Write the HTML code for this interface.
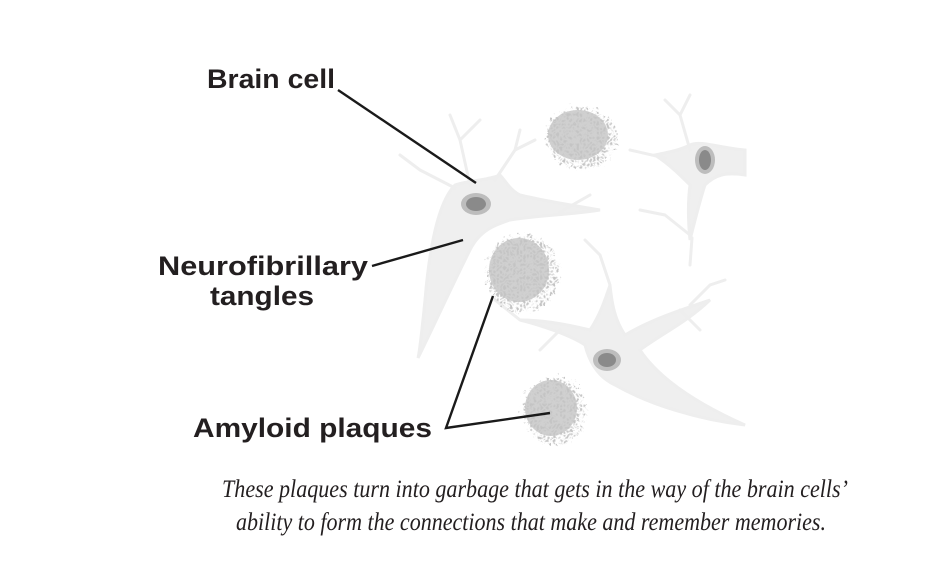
<!DOCTYPE html>
<html><head><meta charset="utf-8"><style>
html,body{margin:0;padding:0;background:#fff;}
svg{display:block;}
</style></head><body>
<svg width="950" height="577" viewBox="0 0 950 577" xmlns="http://www.w3.org/2000/svg">
<defs>
<filter id="tex" x="-30%" y="-30%" width="160%" height="160%">
<feTurbulence type="turbulence" baseFrequency="0.18" numOctaves="2" seed="5" result="n"/>
<feDisplacementMap in="SourceGraphic" in2="n" scale="14" xChannelSelector="R" yChannelSelector="G" result="d"/>
<feTurbulence type="turbulence" baseFrequency="0.3" numOctaves="1" seed="9" result="n2"/>
<feColorMatrix in="n2" type="matrix" values="0 0 0 0 0.55  0 0 0 0 0.55  0 0 0 0 0.55  3 0 0 0 -0.2" result="c"/>
<feComposite in="c" in2="d" operator="in"/>
</filter>
</defs>
<!-- neurons -->
<g fill="#efefef" stroke="#eeeeee" stroke-linecap="round" stroke-width="3">
 <path d="M455,185 C440,200 430,240 425,300 C422,330 420,350 418,358 C432,330 450,290 470,250 C480,230 495,225 510,220 C540,215 570,215 600,210 C570,205 540,200 520,195 C510,190 505,180 500,175 C490,180 470,180 455,185 Z"/>
 <path d="M455,188 L420,170 M420,170 L400,155 M470,185 L460,140 M460,140 L450,115 M460,140 L480,120 M495,180 L515,150 M515,150 L535,140 M515,150 L520,130 M560,212 L590,195" fill="none"/>
 <path d="M690,145 C700,140 720,148 745,150 L745,175 C725,172 715,175 705,185 C700,200 695,220 690,240 C688,220 688,200 690,185 C680,175 670,165 655,155 C670,152 680,150 690,145 Z"/>
 <path d="M690,150 L680,115 M680,115 L665,100 M680,115 L690,95 M665,158 L630,150 M690,235 L665,215 M665,215 L640,210 M692,238 L690,265" fill="none"/>
 <path d="M585,345 C570,335 540,325 520,320 C545,320 570,325 590,330 C600,315 605,300 610,285 C612,305 615,320 625,335 C650,320 680,310 710,300 C690,320 660,335 640,350 C660,380 700,405 745,425 C700,420 650,405 615,385 C600,378 590,365 585,345 Z"/>
 <path d="M520,320 L495,300 M610,285 L600,255 M600,255 L585,240 M690,305 L710,285 M710,285 L725,280 M680,310 L700,330 M560,330 L540,350" fill="none"/>
</g>
<g fill="#bdbdbd">
 <ellipse cx="476" cy="204" rx="15" ry="11"/>
 <ellipse cx="705" cy="160" rx="10" ry="14"/>
 <ellipse cx="607" cy="360" rx="14" ry="11"/>
</g>
<g fill="#8a8a8a">
 <ellipse cx="476" cy="204" rx="10" ry="7"/>
 <ellipse cx="705" cy="160" rx="6" ry="10"/>
 <ellipse cx="607" cy="360" rx="9" ry="7"/>
</g>
<!-- plaques -->
<g fill="#d0d0d0">
 <ellipse cx="578" cy="135" rx="30" ry="25"/>
 <ellipse cx="519" cy="270" rx="30" ry="32"/>
 <ellipse cx="551" cy="408" rx="26" ry="28"/>
</g>
<g fill="#999" filter="url(#tex)">
 <ellipse cx="578" cy="135" rx="36" ry="30"/>
 <ellipse cx="519" cy="270" rx="36" ry="38"/>
 <ellipse cx="551" cy="408" rx="31" ry="33"/>
</g>
<!-- leader lines -->
<g stroke="#1a1a1a" stroke-width="2.4" fill="none">
 <line x1="338" y1="90" x2="476" y2="183"/>
 <line x1="372" y1="266" x2="463" y2="240"/>
 <polyline points="493,296 446,428 550,413"/>
</g>
<!-- labels -->
<g font-family="Liberation Sans, sans-serif" font-weight="bold" fill="#231f20" font-size="27">
 <text x="207" y="88" textLength="128" lengthAdjust="spacingAndGlyphs">Brain cell</text>
 <text x="158" y="275" textLength="210" lengthAdjust="spacingAndGlyphs">Neurofibrillary</text>
 <text x="210" y="305" textLength="104" lengthAdjust="spacingAndGlyphs">tangles</text>
 <text x="193" y="437" textLength="239" lengthAdjust="spacingAndGlyphs">Amyloid plaques</text>
</g>
<g font-family="Liberation Serif, serif" font-style="italic" fill="#231f20" font-size="25">
 <text x="222" y="497" textLength="626" lengthAdjust="spacingAndGlyphs">These plaques turn into garbage that gets in the way of the brain cells’</text>
 <text x="236" y="530" textLength="590" lengthAdjust="spacingAndGlyphs">ability to form the connections that make and remember memories.</text>
</g>
</svg>
</body></html>
